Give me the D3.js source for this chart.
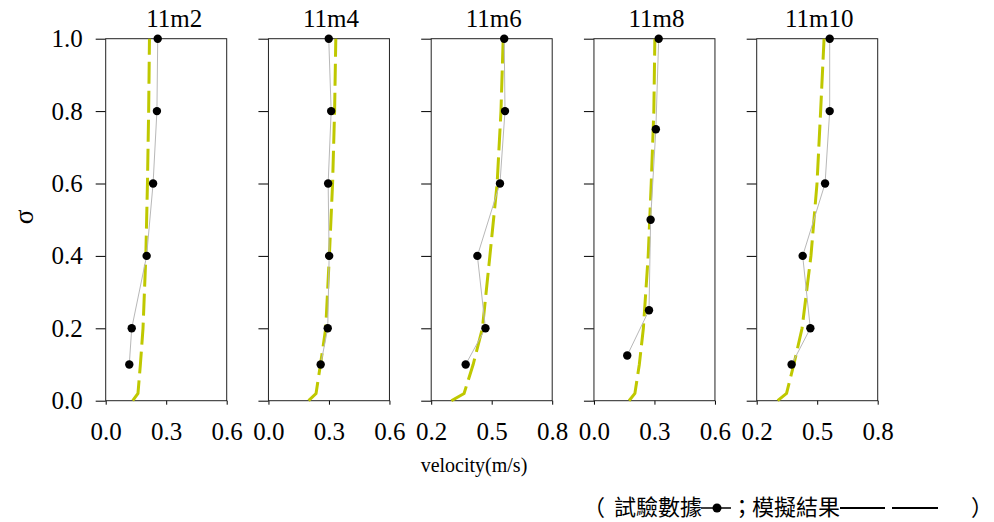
<!DOCTYPE html>
<html>
<head>
<meta charset="utf-8">
<script src="https://cdn.jsdelivr.net/npm/d3@7"></script>
<style>
  html, body { margin: 0; padding: 0; background: #fff; }
  svg { display: block; }
</style>
</head>
<body>
<svg id="chart" width="994" height="522"></svg>
<script>
// Vertical velocity profiles at five stations: measured points and model curve.
const panelNames = ["11m2", "11m4", "11m6", "11m8", "11m10"];
const xDomains = [[0, 0.6], [0, 0.6], [0.2, 0.8], [0, 0.6], [0.2, 0.8]];
const xTickValues = [[0, 0.3, 0.6], [0, 0.3, 0.6], [0.2, 0.5, 0.8], [0, 0.3, 0.6], [0.2, 0.5, 0.8]];
const sigmaTicks = [0, 0.2, 0.4, 0.6, 0.8, 1.0];

// measured data: sigma levels and velocities (m/s)
const measSigma = [
  [1.0, 0.8, 0.6, 0.4, 0.2, 0.1],
  [1.0, 0.8, 0.6, 0.4, 0.2, 0.1],
  [1.0, 0.8, 0.6, 0.4, 0.2, 0.1],
  [1.0, 0.75, 0.5, 0.25, 0.125],
  [1.0, 0.8, 0.6, 0.4, 0.2, 0.1]
];
const measVel = [
  [0.258, 0.254, 0.235, 0.203, 0.129, 0.117],
  [0.299, 0.311, 0.296, 0.301, 0.294, 0.259],
  [0.562, 0.566, 0.541, 0.429, 0.469, 0.371],
  [0.321, 0.307, 0.281, 0.273, 0.165],
  [0.562, 0.562, 0.539, 0.428, 0.466, 0.373]
];

// simulated profiles
const modelSigma = [0, 0.02, 0.1, 0.2, 0.4, 0.6, 0.8, 1.0];
const modelVel = [
  [0.134, 0.160, 0.172, 0.185, 0.199, 0.207, 0.213, 0.217],
  [0.199, 0.236, 0.258, 0.284, 0.302, 0.318, 0.328, 0.334],
  [0.300, 0.363, 0.408, 0.454, 0.491, 0.527, 0.546, 0.557],
  [0.174, 0.203, 0.225, 0.245, 0.269, 0.284, 0.297, 0.302],
  [0.304, 0.348, 0.384, 0.425, 0.469, 0.499, 0.517, 0.534]
];

const serif = '"Liberation Serif", "Times New Roman", serif';
const svg = d3.select("#chart");

const plotTop = 38.7, plotBottom = 400.7;
const firstLeft = 105.7, step = 162.75, panelW = 121;

const y = d3.scaleLinear().domain([0, 1]).range([plotBottom, plotTop]);

function styleAxis(s) {
  s.select(".domain").remove();
  s.selectAll(".tick line").attr("stroke", "#000");
  s.selectAll(".tick text")
    .attr("fill", "#000")
    .style("font-family", serif)
    .style("font-size", "25px");
}

panelNames.forEach((name, i) => {
  const left = firstLeft + i * step;
  const x = d3.scaleLinear().domain(xDomains[i]).range([left, left + panelW]);
  const g = svg.append("g");

  // left axis ticks (labels only on the first panel)
  const ya = d3.axisLeft(y).tickValues(sigmaTicks).tickSize(10).tickPadding(13)
    .tickFormat(i === 0 ? d3.format(".1f") : () => "");
  g.append("g").attr("transform", `translate(${left},0)`).call(ya).call(styleAxis);

  const xa = d3.axisBottom(x).tickValues(xTickValues[i]).tickSize(4).tickPadding(17.5)
    .tickFormat(d3.format(".1f"));
  g.append("g").attr("transform", `translate(0,${plotBottom})`).call(xa).call(styleAxis);

  // frame
  g.append("rect")
    .attr("x", left).attr("y", plotTop)
    .attr("width", panelW).attr("height", plotBottom - plotTop)
    .attr("fill", "none").attr("stroke", "#222").attr("stroke-width", 1);

  // model curve
  const modelPts = modelSigma.map((s, k) => [modelVel[i][k], s]);
  g.append("path")
    .datum(modelPts)
    .attr("d", d3.line().x(d => x(d[0])).y(d => y(d[1])))
    .attr("fill", "none")
    .attr("stroke", "#bfc800")
    .attr("stroke-width", 3)
    .attr("stroke-dasharray", "22,7");

  // measured data
  const measPts = measSigma[i].map((s, k) => [measVel[i][k], s]);
  g.append("path")
    .datum(measPts)
    .attr("d", d3.line().x(d => x(d[0])).y(d => y(d[1])))
    .attr("fill", "none")
    .attr("stroke", "#b8b8b8")
    .attr("stroke-width", 1);
  g.selectAll("circle.pt").data(measPts).join("circle")
    .attr("class", "pt")
    .attr("cx", d => x(d[0])).attr("cy", d => y(d[1]))
    .attr("r", 4.2).attr("fill", "#000");

  // station title
  g.append("text")
    .attr("x", left + panelW / 2 + (i === 0 ? 8 : 2)).attr("y", 27)
    .attr("text-anchor", "middle")
    .style("font-family", serif)
    .style("font-size", "25px")
    .text(name);
});

// axis titles
svg.append("text")
  .attr("transform", "translate(24,217) rotate(-90)")
  .attr("text-anchor", "middle")
  .attr("dominant-baseline", "central")
  .style("font-family", serif)
  .style("font-size", "27px")
  .text("σ");

svg.append("text")
  .attr("x", 474).attr("y", 472)
  .attr("text-anchor", "middle")
  .style("font-family", serif)
  .style("font-size", "20px")
  .text("velocity(m/s)");

// legend note
const cjk = '"Noto Sans CJK TC", "Noto Sans CJK SC", sans-serif';
const lgY = 515;
const lg = svg.append("g").style("font-family", cjk).style("font-size", "22px");
lg.append("text").attr("x", 594).attr("y", lgY).attr("text-anchor", "middle").text("（");
lg.append("text").attr("x", 614).attr("y", lgY).text("試驗數據");
lg.append("line").attr("x1", 701).attr("x2", 731).attr("y1", 508).attr("y2", 508)
  .attr("stroke", "#000").attr("stroke-width", 1.5);
lg.append("circle").attr("cx", 717).attr("cy", 508).attr("r", 4.5).attr("fill", "#000");
lg.append("text").attr("x", 742).attr("y", lgY).attr("text-anchor", "middle").text("；");
lg.append("text").attr("x", 752).attr("y", lgY).text("模擬結果");
lg.append("line").attr("x1", 840).attr("x2", 885).attr("y1", 508).attr("y2", 508)
  .attr("stroke", "#000").attr("stroke-width", 2);
lg.append("line").attr("x1", 892).attr("x2", 938).attr("y1", 508).attr("y2", 508)
  .attr("stroke", "#000").attr("stroke-width", 2);
lg.append("text").attr("x", 982).attr("y", lgY).attr("text-anchor", "middle").text("）");
</script>
</body>
</html>
